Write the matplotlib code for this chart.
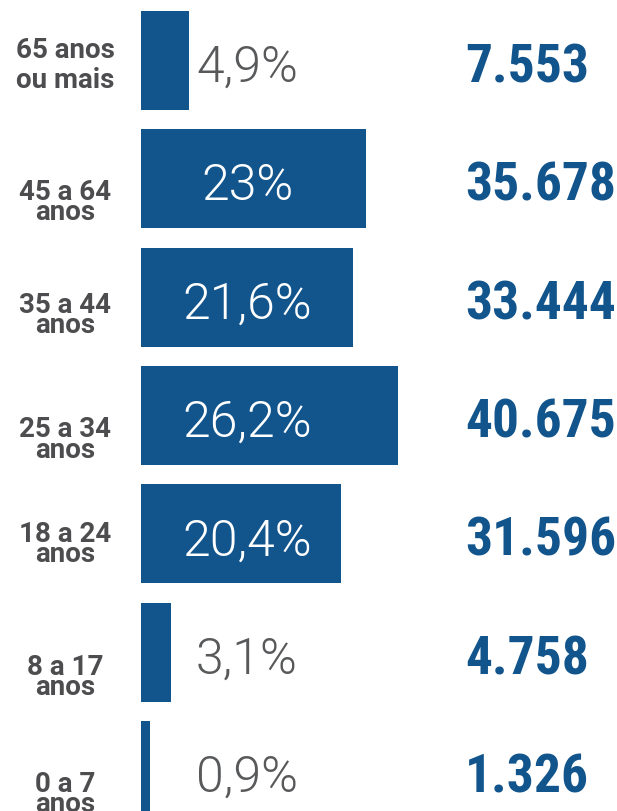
import matplotlib
matplotlib.use("Agg")
import matplotlib.pyplot as plt
from matplotlib import font_manager

# ─── dados ────────────────────────────────────────────────────────────────────
faixas_linha1 = ["65 anos", "45 a 64", "35 a 44", "25 a 34", "18 a 24", "8 a 17", "0 a 7"]
faixas_linha2 = ["ou mais", "anos", "anos", "anos", "anos", "anos", "anos"]
percentuais = [4.9, 23.0, 21.6, 26.2, 20.4, 3.1, 0.9]
totais = [7553, 35678, 33444, 40675, 31596, 4758, 1326]

# ─── estilo ───────────────────────────────────────────────────────────────────
AZUL = "#12558c"
CINZA = "#4d4d4f"
CINZA_PCT = "#58595b"

instaladas = {f.name for f in font_manager.fontManager.ttflist}
FONTE = "Roboto" if "Roboto" in instaladas else "DejaVu Sans"
FONTE_COND = "Roboto Condensed" if "Roboto Condensed" in instaladas else FONTE
TAM_TOTAL = 38.5 if FONTE_COND != FONTE else 34

# deslocamento vertical (px abaixo do centro da barra) das linhas de rótulo
desl_linha1 = [-2.5, 21.5, 15.5, 21.5, 8.5, 22.5, 21.5]
desl_linha2 = [27.5, 41.5, 35.5, 42.5, 28.5, 42.5, 41.5]
PX = 0.72  # pontos por pixel a 100 dpi

# ─── figura ───────────────────────────────────────────────────────────────────
fig = plt.figure(figsize=(6.17, 8.11), dpi=100)
ax = fig.add_axes([0, 0, 1, 1])

y = list(range(len(percentuais)))
ax.barh(y, percentuais, height=0.837, color=AZUL, left=0)

# escala: 9,8 px por ponto percentual, 0% em x=141px; passo 118,33 px
ax.set_xlim(-141 / 9.8, (617 - 141) / 9.8)
ax.set_ylim((811 - 60.5) / 118.33, -60.5 / 118.33)
ax.axis("off")

x_pct = (247 - 141) / 9.8
x_total = (465 - 141) / 9.8
x_rot = (65 - 141) / 9.8

for i, v in enumerate(percentuais):
    txt = f"{v:g}".replace(".", ",") + "%"
    cor = "white" if v > 10 else CINZA_PCT
    ax.annotate(txt, xy=(x_pct, i), xytext=(0, -21.5 * PX), textcoords="offset points",
                ha="center", va="baseline", fontsize=36, color=cor,
                family=FONTE, fontweight=300)

    ax.annotate(f"{totais[i]:,}".replace(",", "."), xy=(x_total, i),
                xytext=(0, -22 * PX), textcoords="offset points",
                ha="left", va="baseline", fontsize=TAM_TOTAL, color=AZUL,
                family=FONTE_COND, fontweight="black")

    ax.annotate(faixas_linha1[i], xy=(x_rot, i), xytext=(0, -desl_linha1[i] * PX),
                textcoords="offset points", ha="center", va="baseline",
                fontsize=20, color=CINZA, family=FONTE, fontweight="bold")
    ax.annotate(faixas_linha2[i], xy=(x_rot, i), xytext=(0, -desl_linha2[i] * PX),
                textcoords="offset points", ha="center", va="baseline",
                fontsize=20, color=CINZA, family=FONTE, fontweight="bold")

fig.savefig("out.png", dpi=100, facecolor="white")
